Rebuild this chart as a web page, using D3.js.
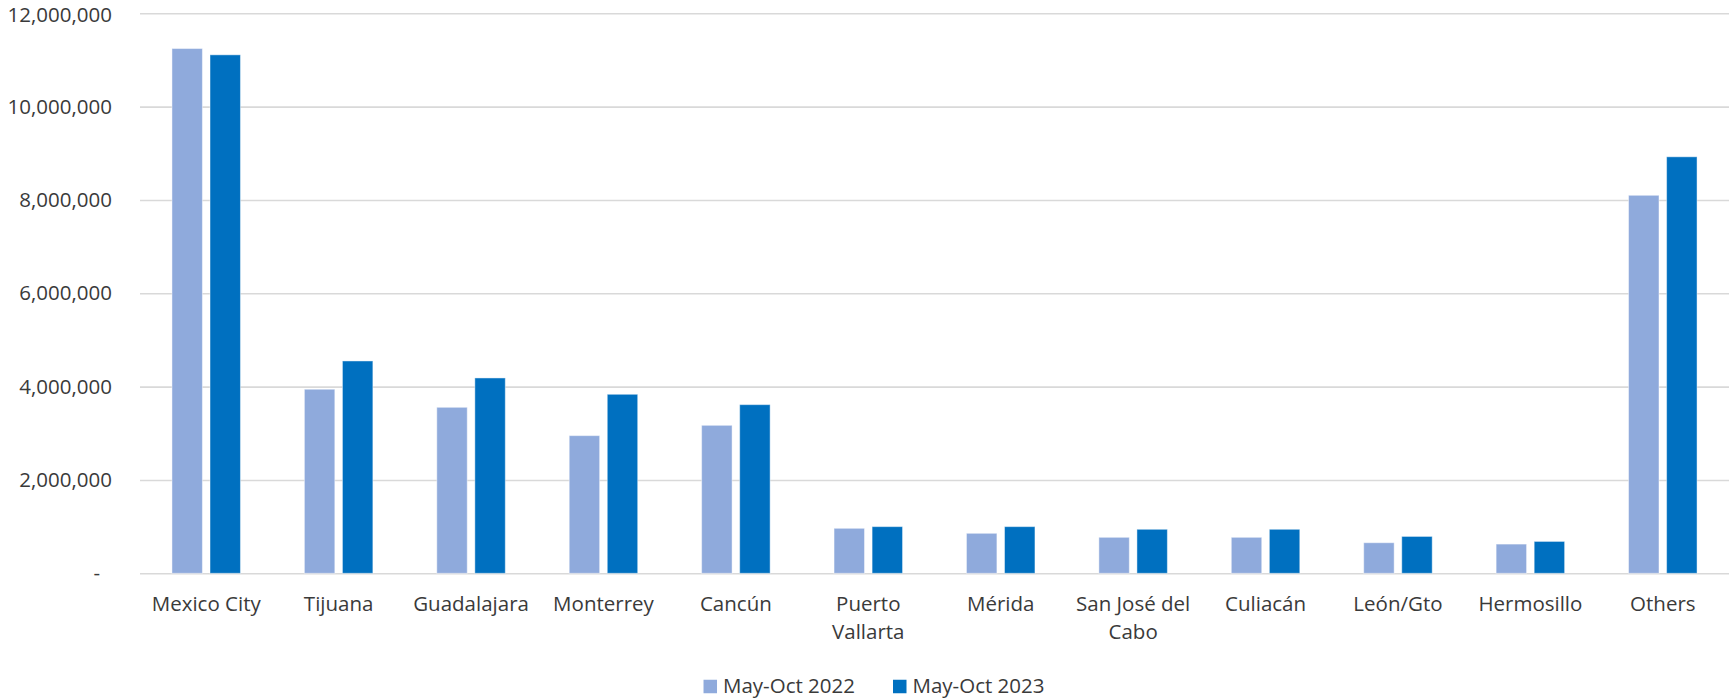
<!DOCTYPE html>
<html>
<head>
<meta charset="utf-8">
<script src="https://cdn.jsdelivr.net/npm/d3@7"></script>
<style>
  body { margin: 0; background: #ffffff; }
  svg text { font-family: 'Open Sans', 'Noto Sans', sans-serif; fill: #3a3a3a; }
</style>
</head>
<body>
<svg id="chart" width="1732" height="699"></svg>
<script>
// Passenger traffic by airport, May–October
const categories = ["Mexico City", "Tijuana", "Guadalajara", "Monterrey", "Cancún",
  "Puerto Vallarta", "Mérida", "San José del Cabo", "Culiacán", "León/Gto", "Hermosillo", "Others"];
const seriesNames = ["May-Oct 2022", "May-Oct 2023"];
const values2022 = [11245000, 3944000, 3557000, 2950000, 3171000, 964000, 857000, 771000, 771000, 655000, 626000, 8100000];
const values2023 = [11110000, 4550000, 4186000, 3836000, 3614000, 1000000, 1000000, 943000, 943000, 790000, 683000, 8925000];
const yTicks = [0, 2000000, 4000000, 6000000, 8000000, 10000000, 12000000];
const seriesColors = ["#8FAADC", "#0070C0"];

const seriesValues = [values2022, values2023];
const rows = categories.map((c, i) => ({
  category: c,
  values: seriesNames.map((s, k) => ({ series: s, value: seriesValues[k][i], color: seriesColors[k] }))
}));

const svg = d3.select("#chart");
const plot = { left: 140, right: 1729, top: 13.3, bottom: 573.3 };
const fontSize = 20.5;

const x = d3.scaleBand().domain(categories).range([plot.left, plot.right]);
const x1 = d3.scaleBand().domain(seriesNames).range([0, x.bandwidth()])
  .paddingInner(0.2).paddingOuter(0.84);
const y = d3.scaleLinear().domain([0, 12000000]).range([plot.bottom, plot.top]);

// Horizontal gridlines
const grid = svg.append("g")
  .attr("transform", `translate(${plot.left},0)`)
  .call(d3.axisLeft(y).tickValues(yTicks).tickSize(-(plot.right - plot.left)).tickFormat(""));
grid.select(".domain").remove();
grid.selectAll("line").attr("stroke", "#d9d9d9").attr("stroke-width", 1.6);

// Value axis labels
const fmt = d3.format(",");
const yAxis = svg.append("g")
  .attr("transform", `translate(${plot.left},0)`)
  .call(d3.axisLeft(y).tickValues(yTicks).tickSize(0).tickPadding(28)
    .tickFormat(d => d === 0 ? "-" : fmt(d)));
yAxis.select(".domain").remove();
yAxis.selectAll("text")
  .style("font-size", fontSize + "px")
  .attr("fill", "#3a3a3a")
  .attr("dy", d => d === 12000000 ? "0.4em" : "0.32em")
  .attr("dx", d => d === 0 ? -12 : 0);

// Bars
const groups = svg.append("g").selectAll("g")
  .data(rows).join("g")
  .attr("transform", d => `translate(${x(d.category)},0)`);
groups.selectAll("rect")
  .data(d => d.values).join("rect")
  .attr("x", d => x1(d.series))
  .attr("width", x1.bandwidth())
  .attr("y", d => y(d.value))
  .attr("height", d => y(0) - y(d.value))
  .attr("fill", d => d.color)
  .attr("stroke", "#ffffff")
  .attr("stroke-opacity", 0.45)
  .attr("stroke-width", 1);

// Category axis labels, wrapped to the category width
const xAxis = svg.append("g")
  .attr("transform", `translate(0,${plot.bottom})`)
  .call(d3.axisBottom(x).tickSize(0).tickPadding(23));
xAxis.select(".domain").remove();
xAxis.selectAll("text")
  .style("font-size", fontSize + "px")
  .attr("fill", "#3a3a3a")
  .call(wrap, x.bandwidth() - 8);

function wrap(texts, width) {
  texts.each(function () {
    const text = d3.select(this);
    const words = text.text().split(/\s+/);
    const yPos = text.attr("y");
    const dy = parseFloat(text.attr("dy"));
    text.text(null);
    let line = [];
    let lineNo = 0;
    let tspan = text.append("tspan").attr("x", 0).attr("y", yPos).attr("dy", dy + "em");
    words.forEach(w => {
      line.push(w);
      tspan.text(line.join(" "));
      if (tspan.node().getComputedTextLength() > width && line.length > 1) {
        line.pop();
        tspan.text(line.join(" "));
        line = [w];
        lineNo++;
        tspan = text.append("tspan").attr("x", 0).attr("y", yPos)
          .attr("dy", (dy + lineNo * 1.36) + "em").text(w);
      }
    });
  });
}

// Legend
const legend = svg.append("g");
const sq = 13.5, gapText = 6, gapItem = 38;
let cursor = 0;
seriesNames.forEach((s, k) => {
  const g = legend.append("g");
  g.append("rect").attr("x", 0).attr("y", -sq / 2).attr("width", sq).attr("height", sq)
    .attr("fill", seriesColors[k]);
  const t = g.append("text").attr("x", sq + gapText).attr("dy", "0.33em")
    .style("font-size", fontSize + "px").text(s);
  const w = sq + gapText + t.node().getComputedTextLength();
  g.attr("transform", `translate(${cursor},0)`);
  cursor += w + gapItem;
});
const legendWidth = cursor - gapItem;
legend.attr("transform", `translate(${874 - legendWidth / 2},686.5)`);
</script>
</body>
</html>
